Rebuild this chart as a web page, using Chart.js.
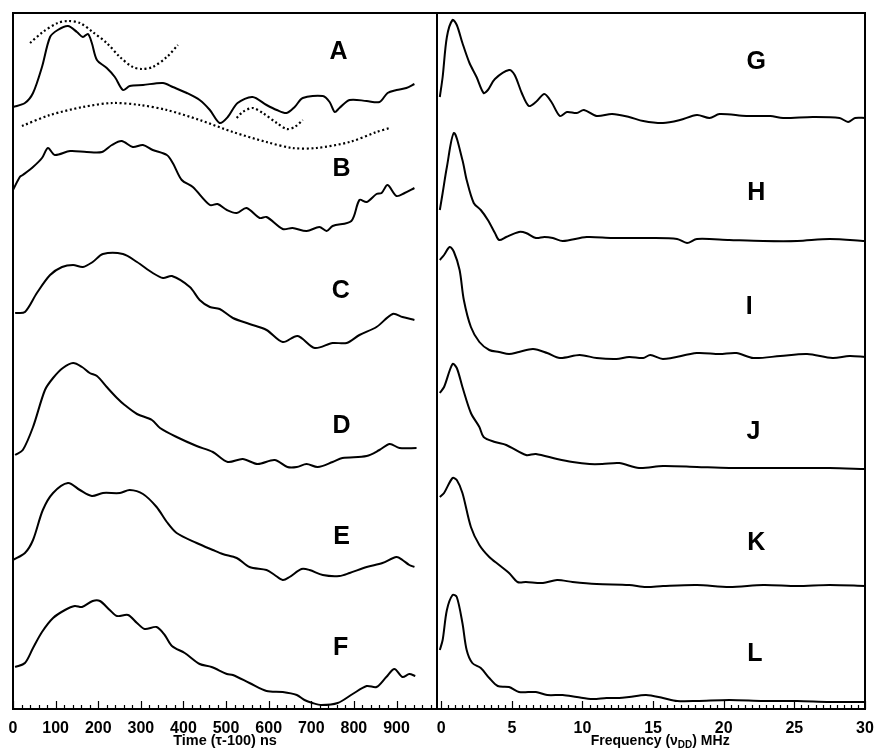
<!DOCTYPE html>
<html>
<head>
<meta charset="utf-8">
<script src="https://cdn.jsdelivr.net/npm/chart.js@4.4.0/dist/chart.umd.min.js"></script>
<style>
	html, body { margin: 0; padding: 0; background: #fff; }
	#wrap { position: relative; width: 878px; height: 753px; }
	#timeChart { position: absolute; left: 0; top: 0; }
	#freqChart { position: absolute; left: 436px; top: 0; }
</style>
</head>
<body>
<div id="wrap">
	<canvas id="timeChart" width="440" height="753"></canvas>
	<canvas id="freqChart" width="442" height="753"></canvas>
</div>
<script>
// ---- time domain traces (ns), amplitude in arbitrary units ----
const timeTicks = [0, 100, 200, 300, 400, 500, 600, 700, 800, 900];
const timeLetters = ['A', 'B', 'C', 'D', 'E', 'F'];

const timeA = [0, 28, 47, 68, 87, 105, 129, 150, 164, 176, 185, 197, 220, 239, 258, 274, 305, 352, 375, 408, 438, 462, 485, 504, 527, 562, 595, 619, 642, 661, 680, 727, 743, 755, 766, 790, 830, 860, 879, 900, 923, 942];
const ampA = [0, 4, 14, 40, 70, 77, 81, 75, 70, 73, 64, 47, 39, 30, 17, 21, 22, 24, 20, 14, 7, -3, -16, -10, 4, 10, 2, -3, -6, 0, 9, 11, 5, -5, -1, 7, 6, 5, 14, 17, 19, 23];

// simulated fits drawn dotted over trace A
const timeFit1 = [40, 70, 105, 129, 157, 187, 220, 251, 281, 302, 328, 361, 387];
const ampFit1 = [64, 75, 84, 86, 84, 75, 64, 50, 40, 38, 40, 50, 62];
const timeFit2 = [21, 87, 164, 234, 298, 361, 438, 516, 595, 656, 712, 790, 853, 884];
const ampFit2 = [-19, -8, 0, 4, 2, -3, -13, -25, -35, -41, -41, -35, -25, -21];
const timeFit3 = [525, 539, 562, 586, 619, 642, 661, 680];
const ampFit3 = [-11, -5, -1, -6, -16, -22, -20, -13];

const timeB = [0, 16, 23, 47, 68, 82, 98, 134, 173, 209, 232, 255, 281, 305, 328, 361, 375, 396, 422, 462, 480, 502, 525, 548, 579, 595, 633, 656, 689, 719, 736, 750, 794, 813, 830, 853, 865, 879, 900, 919, 942];
const ampB = [0, 13, 15, 23, 32, 42, 35, 39, 38, 38, 45, 49, 43, 45, 40, 35, 27, 10, 3, -15, -14, -20, -23, -18, -28, -27, -39, -38, -41, -37, -41, -36, -31, -10, -12, -4, -3, 5, -6, -3, 2];

const timeC = [5, 28, 56, 87, 115, 141, 164, 187, 211, 258, 291, 328, 352, 373, 415, 438, 462, 485, 516, 555, 595, 633, 668, 708, 750, 783, 813, 853, 891, 914, 942];
const ampC = [0, 1, 20, 38, 46, 48, 46, 51, 59, 59, 51, 40, 35, 37, 26, 13, 6, 4, -5, -11, -17, -29, -23, -35, -30, -30, -22, -14, -1, -4, -7];

const timeD = [5, 23, 47, 75, 94, 117, 141, 162, 180, 197, 220, 244, 262, 291, 326, 345, 384, 431, 469, 504, 539, 574, 614, 644, 666, 689, 715, 750, 773, 830, 860, 884, 907, 947];
const ampD = [0, 5, 28, 65, 77, 87, 92, 88, 82, 79, 68, 57, 50, 41, 35, 27, 18, 9, 3, -7, -4, -9, -5, -12, -12, -9, -12, -7, -3, -1, 5, 11, 7, 7];

const timeE = [0, 28, 47, 70, 94, 129, 157, 185, 211, 251, 274, 305, 337, 361, 384, 431, 469, 492, 525, 555, 595, 614, 633, 649, 677, 696, 727, 766, 790, 830, 867, 900, 914, 930, 942];
const ampE = [0, 7, 20, 50, 67, 77, 70, 64, 67, 67, 70, 66, 53, 38, 27, 17, 10, 6, 2, -7, -10, -15, -20, -17, -9, -10, -15, -16, -13, -7, -3, 3, 0, -5, -7];

const timeF = [5, 28, 47, 68, 94, 122, 145, 162, 187, 204, 227, 244, 270, 291, 309, 337, 356, 373, 403, 438, 466, 502, 516, 555, 595, 633, 666, 684, 703, 724, 762, 797, 830, 853, 876, 895, 914, 930, 944];
const ampF = [0, 4, 19, 35, 49, 57, 61, 60, 66, 66, 57, 51, 52, 44, 38, 40, 32, 21, 14, 3, 0, -7, -8, -16, -24, -25, -28, -33, -36, -38, -36, -27, -19, -20, -10, -2, -10, -7, -9];

// ---- frequency domain traces (MHz) ----
const freqTicks = [0, 5, 10, 15, 20, 25, 30];
const freqLetters = ['G', 'H', 'I', 'J', 'K', 'L'];

const freqG = [-0.1, 0.1, 0.4, 0.8, 1.1, 1.5, 2.0, 2.5, 3.0, 3.3, 3.8, 4.8, 5.2, 5.7, 6.2, 6.7, 7.3, 7.8, 8.4, 8.9, 9.6, 10.1, 11.0, 12.1, 13.3, 14.3, 15.7, 16.9, 18.1, 19.0, 19.7, 21.6, 23.3, 24.2, 26.3, 28.2, 28.8, 29.3, 30];
const ampG = [21, 41, 81, 98, 93, 75, 55, 41, 25, 28, 39, 48, 43, 25, 12, 16, 24, 16, 2, 6, 5, 8, 2, 4, 1, -3, -5, -2, 3, 0, 4, 2, 2, 0, 1, 0, -4, 0, 0];

const freqH = [-0.1, 0.1, 0.4, 0.9, 1.5, 1.8, 2.3, 2.8, 3.3, 3.8, 4.1, 4.6, 5.5, 6.0, 6.7, 7.3, 7.9, 8.6, 10.3, 12.1, 14.8, 16.7, 17.4, 18.1, 20.4, 22.8, 25.2, 27.5, 30];
const ampH = [31, 48, 74, 108, 81, 61, 38, 31, 21, 8, 1, 4, 9, 8, 3, 4, 3, 0, 4, 3, 3, 2, -2, 2, 1, 0, 0, 2, 0];

const freqI = [-0.1, 0.2, 0.6, 0.9, 1.3, 1.6, 2.1, 2.7, 3.4, 4.1, 4.8, 5.5, 6.5, 7.5, 8.4, 9.8, 11.0, 12.4, 13.3, 14.3, 14.8, 15.7, 18.1, 19.7, 20.9, 22.1, 24.0, 25.9, 27.7, 28.9, 30];
const ampI = [97, 102, 110, 105, 87, 57, 30, 15, 7, 5, 3, 5, 8, 4, -1, 2, -1, -2, 0, -1, 2, -2, 4, 3, 4, -1, 1, 3, -1, 1, 0];

const freqJ = [-0.1, 0.2, 0.8, 1.1, 1.5, 2.1, 2.7, 3.0, 3.8, 4.6, 6.0, 6.7, 8.2, 9.3, 10.5, 11.4, 12.6, 14.0, 15.7, 18.1, 20.4, 22.8, 25.2, 27.5, 30];
const ampJ = [75, 81, 104, 100, 81, 55, 41, 31, 26, 23, 13, 14, 9, 6, 4, 4, 5, 0, 2, 1, 0, 0, 0, 0, -1];

const freqK = [-0.1, 0.2, 0.8, 1.1, 1.5, 2.1, 2.7, 3.4, 4.1, 4.8, 5.4, 6.0, 7.2, 8.2, 9.3, 11.0, 13.3, 14.5, 15.7, 18.1, 20.4, 22.8, 25.2, 27.5, 30];
const ampK = [88, 92, 107, 105, 92, 58, 40, 28, 20, 12, 3, 3, 2, 5, 3, 1, 0, -2, -1, 0, -2, 0, -1, 0, -1];

const freqL = [-0.1, 0.1, 0.4, 0.8, 1.1, 1.5, 1.8, 2.2, 2.8, 3.4, 4.0, 4.8, 5.5, 6.7, 7.5, 8.6, 9.6, 10.7, 11.7, 12.6, 13.3, 14.5, 15.7, 16.7, 18.1, 20.4, 22.8, 25.2, 27.5, 30];
const ampL = [51, 61, 91, 106, 104, 78, 51, 38, 33, 23, 15, 14, 9, 9, 6, 6, 4, 2, 3, 3, 4, 6, 3, 0, 0, 1, 0, 0, -1, -1];

// vertical stacking of the traces (y axis runs 0..696)
const timeOffsets = [602, 519, 396, 254, 149, 42];
const freqOffsets = [591, 468, 352, 241, 124, 8];

function toPoints(xs, ys, offset) {
	return xs.map((x, i) => ({ x: x, y: ys[i] + offset }));
}

function solid(xs, ys, offset) {
	return {
		data: toPoints(xs, ys, offset),
		borderColor: '#000',
		borderWidth: 2,
		pointRadius: 0,
		tension: 0.3,
		fill: false,
	};
}

function dotted(xs, ys, offset) {
	var ds = solid(xs, ys, offset);
	ds.borderDash = [2, 2.6];
	ds.borderWidth = 2.2;
	return ds;
}

const FONT = '"Liberation Sans", Arial, sans-serif';

// frame around the plot, inward ticks on the bottom axis, panel letters
const panelPlugin = {
	id: 'panel',
	afterDraw(chart, args, opts) {
		const ctx = chart.ctx;
		const area = chart.chartArea;
		const xs = chart.scales.x;
		const ys = chart.scales.y;

		ctx.save();
		ctx.strokeStyle = '#000';
		ctx.lineWidth = 2;
		ctx.beginPath();
		ctx.moveTo(area.left, area.top);
		ctx.lineTo(area.right, area.top);
		ctx.moveTo(area.left, area.bottom);
		ctx.lineTo(area.right, area.bottom);
		opts.sides.forEach(side => {
			const px = side === 'left' ? area.left : area.right;
			ctx.moveTo(px, area.top - 1);
			ctx.lineTo(px, area.bottom + 1);
		});
		ctx.stroke();

		ctx.lineWidth = 1.2;
		ctx.beginPath();
		for (let v = 0; v <= xs.max + 1e-9; v += opts.minor) {
			const ratio = v / opts.major;
			const isMajor = Math.abs(ratio - Math.round(ratio)) < 1e-6;
			const px = Math.round(xs.getPixelForValue(v)) + 0.5;
			ctx.moveTo(px, area.bottom);
			ctx.lineTo(px, area.bottom - (isMajor ? 8 : 4));
		}
		ctx.stroke();

		ctx.fillStyle = '#000';
		ctx.font = 'bold 25px ' + FONT;
		ctx.textAlign = 'center';
		ctx.textBaseline = 'middle';
		opts.letters.forEach((letter, i) => {
			const pos = opts.letterPos[i];
			ctx.fillText(letter, xs.getPixelForValue(pos[0]), ys.getPixelForValue(pos[1]));
		});

		// axis title with subscript, when the axis does not draw its own
		if (opts.subTitle) {
			const t = opts.subTitle;
			const mainFont = 'bold 14px ' + FONT;
			const subFont = 'bold 10px ' + FONT;
			ctx.font = mainFont;
			const w1 = ctx.measureText(t[0]).width;
			const w3 = ctx.measureText(t[2]).width;
			ctx.font = subFont;
			const w2 = ctx.measureText(t[1]).width;
			const total = w1 + w2 + w3;
			let x = xs.getPixelForValue(opts.titleAt) - total / 2;
			const y = opts.titleY;
			ctx.textAlign = 'left';
			ctx.font = mainFont;
			ctx.fillText(t[0], x, y);
			x += w1;
			ctx.font = subFont;
			ctx.fillText(t[1], x, y + 4);
			x += w2;
			ctx.font = mainFont;
			ctx.fillText(t[2], x, y);
		}
		ctx.restore();
	},
};

function xAxis(min, max, tickValues, title) {
	return {
		type: 'linear',
		min: min,
		max: max,
		grid: { display: false, drawTicks: false },
		border: { display: false },
		afterBuildTicks: (scale) => {
			scale.ticks = tickValues.map(v => ({ value: v }));
		},
		afterFit: (scale) => {
			// pin the axis band so the plot bottom lands where the original has it
			scale.paddingLeft = 0;
			scale.paddingRight = 0;
			scale.height = 44;
		},
		ticks: {
			color: '#000',
			padding: 12,
			maxRotation: 0,
			autoSkip: false,
			font: { family: FONT, weight: 'bold', size: 16, lineHeight: 1 },
			callback: (v) => String(v),
		},
		title: title ? {
			display: true,
			text: title,
			color: '#000',
			font: { family: FONT, weight: 'bold', size: 14.5, lineHeight: 1 },
			padding: { top: 0, bottom: 5 },
		} : { display: false },
	};
}

const yAxis = { type: 'linear', display: false, min: 0, max: 696 };

new Chart(document.getElementById('timeChart').getContext('2d'), {
	type: 'line',
	data: {
		datasets: [
			solid(timeA, ampA, timeOffsets[0]),
			dotted(timeFit1, ampFit1, timeOffsets[0]),
			dotted(timeFit2, ampFit2, timeOffsets[0]),
			dotted(timeFit3, ampFit3, timeOffsets[0]),
			solid(timeB, ampB, timeOffsets[1]),
			solid(timeC, ampC, timeOffsets[2]),
			solid(timeD, ampD, timeOffsets[3]),
			solid(timeE, ampE, timeOffsets[4]),
			solid(timeF, ampF, timeOffsets[5]),
		],
	},
	options: {
		responsive: false,
		animation: false,
		layout: { padding: { left: 13, right: 3, top: 13, bottom: 0 } },
		scales: {
			x: xAxis(0, 995, timeTicks, 'Time (\u03c4-100) ns'),
			y: yAxis,
		},
		plugins: {
			legend: { display: false },
			tooltip: { enabled: false },
			panel: {
				minor: 20,
				major: 100,
				sides: ['left', 'right'],
				letters: timeLetters,
				letterPos: [[764, 657], [771, 540], [769, 418], [771, 283], [771, 172], [769, 61]],
			},
		},
	},
	plugins: [panelPlugin],
});

new Chart(document.getElementById('freqChart').getContext('2d'), {
	type: 'line',
	data: {
		datasets: [
			solid(freqG, ampG, freqOffsets[0]),
			solid(freqH, ampH, freqOffsets[1]),
			solid(freqI, ampI, freqOffsets[2]),
			solid(freqJ, ampJ, freqOffsets[3]),
			solid(freqK, ampK, freqOffsets[4]),
			solid(freqL, ampL, freqOffsets[5]),
		],
	},
	options: {
		responsive: false,
		animation: false,
		layout: { padding: { left: 1, right: 13, top: 13, bottom: 0 } },
		scales: {
			x: xAxis(-0.3, 30, freqTicks, null),
			y: yAxis,
		},
		plugins: {
			legend: { display: false },
			tooltip: { enabled: false },
			panel: {
				minor: 0.5,
				major: 5,
				sides: ['right'],
				letters: freqLetters,
				letterPos: [[22.3, 647], [22.3, 516], [21.8, 402], [22.1, 277], [22.3, 166], [22.2, 55]],
				subTitle: ['Frequency (\u03bd', 'DD', ') MHz'],
				titleAt: 15.5,
				titleY: 741,
			},
		},
	},
	plugins: [panelPlugin],
});
</script>
</body>
</html>
